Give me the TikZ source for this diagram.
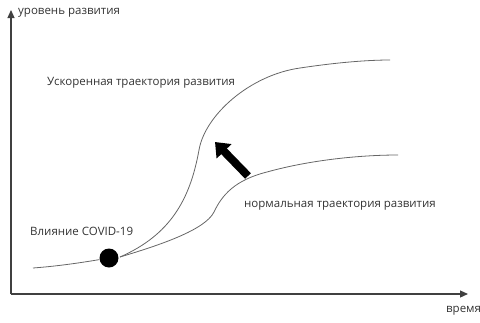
\documentclass[tikz,border=0pt]{standalone}
\usepackage{fontspec}
\setmainfont{Open Sans}
\usetikzlibrary{arrows.meta,shapes.arrows}
\begin{document}
\begin{tikzpicture}[x=1pt,y=-1pt,
  axis/.style={draw=black!75,line width=1.2pt,-{Triangle[length=8pt,width=7pt]}},
  curve/.style={draw=black!60,line width=0.8pt},
  lbl/.style={font=\fontsize{11.5}{13}\selectfont,text=black!80,inner sep=0pt,anchor=west}]
\useasboundingbox (0,0) rectangle (480,322);
\coordinate (o) at (11,294);
\coordinate (ytop) at (11,10);
\coordinate (xend) at (468,294);
\draw[axis] (o) -- (ytop);
\draw[axis] (o) -- (xend);
\node[lbl] (ylab) at (18,13) {уровень развития};
\node[lbl] (xlab) at (446,311) {время};
\coordinate (s) at (33,268);
\node[circle,fill=black,minimum size=19pt,inner sep=0pt] (dot) at (109,258) {};
\draw[curve] (s) .. controls (60,266) and (85,262) .. (dot);
\coordinate (u1) at (120,257);
\draw[curve] (u1) .. controls (170,235) and (190,200) .. (199,150)
  .. controls (205,115) and (250,75) .. (300,68)
  .. controls (340,62) and (370,60) .. (390,60);
\draw[curve] (u1) .. controls (160,245) and (205,230) .. (214,212)
  .. controls (222,195) and (235,180) .. (267,172)
  .. controls (310,160) and (360,155) .. (398,155);
\coordinate (atail) at (248,176);
\coordinate (atip) at (215,142);
\draw[line width=8pt,-{Triangle[length=13pt,width=20pt]}] (atail) -- (atip);
\node[lbl] (acc) at (47,83) {Ускоренная траектория развития};
\node[lbl] (norm) at (244,206) {нормальная траектория развития};
\node[lbl] (covid) at (30,231) {Влияние COVID-19};
\end{tikzpicture}
\end{document}
